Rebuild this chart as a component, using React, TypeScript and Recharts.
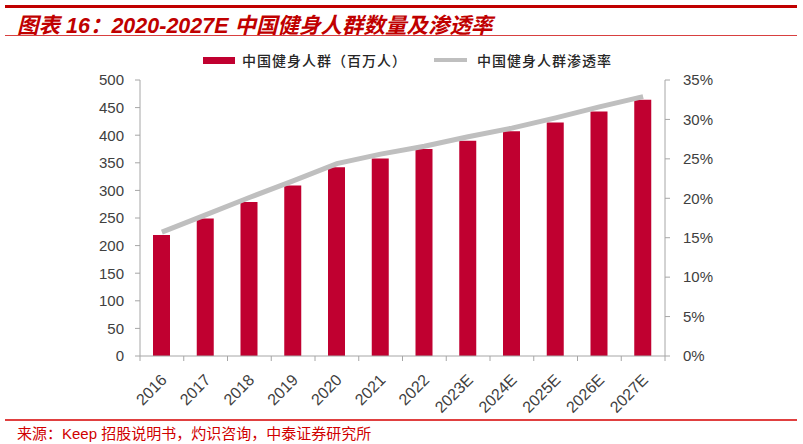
import React from "react";
import { ComposedChart, Bar, Line, XAxis, YAxis } from "recharts";

const years = ["2016", "2017", "2018", "2019", "2020", "2021", "2022", "2023E", "2024E", "2025E", "2026E", "2027E"];
const users = [219, 249, 279, 309, 342, 358, 375, 390, 407, 423, 443, 464];
const rates = [0.157, 0.179, 0.201, 0.222, 0.244, 0.256, 0.266, 0.278, 0.289, 0.302, 0.316, 0.329];
const leftTicks = [0, 50, 100, 150, 200, 250, 300, 350, 400, 450, 500];
const rightTicks = [0, 0.05, 0.1, 0.15, 0.2, 0.25, 0.3, 0.35];

const data = years.map((year, i) => ({ year, users: users[i], rate: rates[i] }));

const W = 803;
const H = 444;
const margin = { top: 80, right: 78, bottom: 38, left: 80 };
const axisW = 60;
const plotW = W - margin.left - margin.right - axisW * 2;
const band = plotW / years.length;

const RED = "#C00030";
const GRAY = "#BFBFBF";
const AXIS = "#A6A6A6";
const TXT = "#404040";
const tickFont = "'Liberation Sans', Arial, sans-serif";

const XTick = (props: any) => {
  const { x, y, payload, index } = props;
  const last = index === years.length - 1;
  return (
    <g>
      <line x1={x - band / 2} x2={x - band / 2} y1={y} y2={y + 5} stroke={AXIS} />
      {last && <line x1={x + band / 2} x2={x + band / 2} y1={y} y2={y + 5} stroke={AXIS} />}
      <text
        x={x + 6}
        y={y + 25}
        textAnchor="end"
        transform={`rotate(-45 ${x + 6} ${y + 25})`}
        fontSize={16}
        fontFamily={tickFont}
        fill={TXT}
      >
        {payload.value}
      </text>
    </g>
  );
};

export default function App() {
  return (
    <div style={{ position: "absolute", left: 0, top: 0, width: W, height: H, background: "#fff" }}>
      <div style={{ position: "absolute", left: 5, top: 5, width: 792, height: 3, background: "#C00000" }} />
      <div
        style={{
          position: "absolute",
          left: 17,
          top: 8,
          fontFamily: "'Liberation Sans', 'Noto Sans CJK SC', sans-serif",
          fontWeight: 700,
          fontStyle: "italic",
          fontSize: 21.5,
          color: "#C00000",
          whiteSpace: "nowrap",
        }}
      >
        图表 16：2020-2027E 中国健身人群数量及渗透率
      </div>
      <div style={{ position: "absolute", left: 5, top: 35, width: 792, height: 1, background: "#D84040" }} />

      <div
        style={{
          position: "absolute",
          left: 203,
          top: 50,
          display: "flex",
          alignItems: "center",
          fontFamily: "'Noto Sans CJK SC', sans-serif",
          fontSize: 14,
          letterSpacing: 1,
          fontWeight: 500,
          color: "#262626",
          whiteSpace: "nowrap",
        }}
      >
        <span style={{ display: "inline-block", width: 32, height: 7, background: RED, marginRight: 7 }} />
        <span>中国健身人群（百万人）</span>
        <span style={{ display: "inline-block", width: 33, height: 4, background: GRAY, marginLeft: 27, marginRight: 10 }} />
        <span>中国健身人群渗透率</span>
      </div>

      <ComposedChart width={W} height={H} data={data} margin={margin} style={{ position: "absolute", left: 0, top: 0 }}>
        <XAxis
          dataKey="year"
          interval={0}
          tickLine={false}
          tickSize={0}
          tickMargin={0}
          height={50}
          axisLine={{ stroke: AXIS }}
          tick={<XTick />}
        />
        <YAxis
          yAxisId="left"
          width={axisW}
          domain={[0, 500]}
          ticks={leftTicks}
          interval={0}
          axisLine={{ stroke: AXIS }}
          tickLine={{ stroke: AXIS }}
          tickSize={5}
          tickMargin={11}
          tick={{ fontSize: 15, fontFamily: tickFont, fill: TXT }}
        />
        <YAxis
          yAxisId="right"
          orientation="right"
          width={axisW}
          domain={[0, 0.35]}
          ticks={rightTicks}
          interval={0}
          axisLine={{ stroke: AXIS }}
          tickLine={{ stroke: AXIS }}
          tickSize={5}
          tickMargin={13}
          tickFormatter={(v: number) => `${Math.round(v * 100)}%`}
          tick={{ fontSize: 15, fontFamily: tickFont, fill: TXT, textAnchor: "start" }}
        />
        <Bar yAxisId="left" dataKey="users" fill={RED} barSize={17} isAnimationActive={false} />
        <Line
          yAxisId="right"
          dataKey="rate"
          type="linear"
          stroke={GRAY}
          strokeWidth={5}
          dot={false}
          activeDot={false}
          isAnimationActive={false}
        />
      </ComposedChart>

      <div style={{ position: "absolute", left: 5, top: 419, width: 792, height: 2, background: "#E04040" }} />
      <div
        style={{
          position: "absolute",
          left: 17,
          top: 422,
          fontFamily: "'Liberation Sans', 'Noto Sans CJK SC', sans-serif",
          fontSize: 15,
          color: "#D00000",
          whiteSpace: "nowrap",
        }}
      >
        来源：Keep 招股说明书，灼识咨询，中泰证券研究所
      </div>
    </div>
  );
}
